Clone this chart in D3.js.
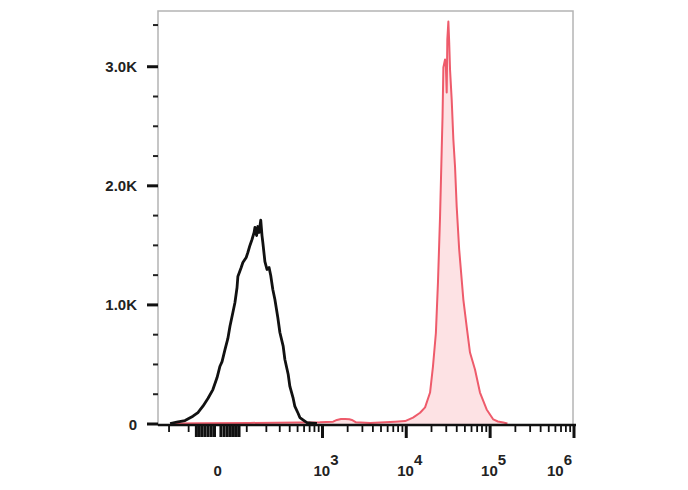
<!DOCTYPE html>
<html>
<head>
<meta charset="utf-8">
<script src="https://cdn.jsdelivr.net/npm/d3@7/dist/d3.min.js"></script>
<style>
  html, body { margin: 0; padding: 0; background: #fff; }
  svg { display: block; }
  text { font-family: "Liberation Sans", Arial, sans-serif; }
</style>
</head>
<body>
<svg id="chart" width="688" height="490"></svg>
<script>
// ---- Data (display channel 0..1000 across the axis, event counts) ----
const blackChannel = [29,45,65,84,96,108,120,132,142,149,154,161,168,173,180,185,190,192,200,204,212,216,221,226,231,233,237,240,243,247,250,252,257,262,267,271,276,281,288,293,301,305,313,317,325,329,337,341,351,358,370,382];
const blackCount   = [0,11,25,61,92,145,210,285,386,481,520,621,714,817,932,1016,1142,1234,1310,1352,1394,1436,1495,1545,1604,1646,1578,1654,1604,1707,1578,1520,1360,1293,1310,1243,1125,1041,890,764,647,537,411,311,210,143,84,50,25,8,4,0];

const redChannel = [41,101,221,341,389,421,430,440,450,460,466,476,510,546,570,594,613,630,642,654,661,668,673,678,682,684,686,690,692,694,695.5,698,700,702,706,710,714,718,724,734,742,750,762,774,790,806,817,830,840];
const redCount   = [0,3,5,8,10,15,30,38,38,36,30,10,5,10,15,20,50,90,135,260,480,760,1185,1737,2300,2578,2990,3056,2998,2779,3224,3375,3199,2972,2720,2385,2158,1822,1461,1041,814,596,453,260,118,34,17,8,0];

// Axis ticks
const yMajorTicks = [0, 1000, 2000, 3000];
const yMajorLabels = ["0", "1.0K", "2.0K", "3.0K"];
const yMinorTicks = [250, 500, 750, 1250, 1500, 1750, 2250, 2500, 2750, 3350];

const xMajorTicks = [1e3, 1e4, 1e5, 1e6];
const xMajorExp = ["3", "4", "5", "6"];
const xMinorTicks = [-200, -100, -70, -60, -50, -40, -30, -20, -10, 10, 20, 30, 40, 50, 60, 70,
  100, 200, 300, 400, 500, 600, 700, 800, 900,
  2000, 3000, 4000, 5000, 6000, 7000, 8000, 9000,
  20000, 30000, 40000, 50000, 60000, 70000, 80000, 90000,
  200000, 300000, 400000, 500000, 600000, 700000, 800000, 900000];
const xDomainMin = -280, xDomainMax = 1e6, cofactor = 113;

// ---- Layout ----
const plotLeft = 158, plotRight = 574, plotTop = 11, plotBottom = 424;
const svg = d3.select("#chart");

// display channel -> pixel
const x = d3.scaleLinear().domain([0, 1000]).range([plotLeft, plotRight]);
// intensity (arcsinh transformed) -> display channel
const asinhT = v => Math.asinh(v / cofactor);
const chan = d3.scaleLinear().domain([asinhT(xDomainMin), asinhT(xDomainMax)]).range([0, 1000]);
const xv = v => x(chan(asinhT(v)));

const y = d3.scaleLinear().domain([0, 3468]).range([plotBottom, plotTop]);

// Frame (gray)
svg.append("rect")
  .attr("x", plotLeft).attr("y", plotTop)
  .attr("width", 573 - plotLeft).attr("height", plotBottom + 1 - plotTop)
  .attr("fill", "none").attr("stroke", "#b4b4b4").attr("stroke-width", 1.5);

// Red histogram (filled)
const redData = redChannel.map((c, i) => [c, redCount[i]]);
svg.append("path")
  .datum(redData)
  .attr("fill", "#fde2e4")
  .attr("d", d3.area().x(d => x(d[0])).y0(y(0)).y1(d => y(d[1])));
svg.append("path")
  .datum(redData)
  .attr("fill", "none")
  .attr("stroke", "#ee5b6b")
  .attr("stroke-width", 2)
  .attr("stroke-linejoin", "round")
  .attr("d", d3.line().x(d => x(d[0])).y(d => y(d[1]) - 0.5));

// Black histogram
const blackData = blackChannel.map((c, i) => [c, blackCount[i]]);
svg.append("path")
  .datum(blackData)
  .attr("fill", "none")
  .attr("stroke", "#111")
  .attr("stroke-width", 2.8)
  .attr("stroke-linejoin", "round")
  .attr("d", d3.line().x(d => x(d[0])).y(d => y(d[1]) - 0.5));

// Y axis ticks
svg.selectAll(".ymaj").data(yMajorTicks).enter().append("line")
  .attr("x1", 147).attr("x2", plotLeft)
  .attr("y1", d => y(d)).attr("y2", d => y(d))
  .attr("stroke", "#111").attr("stroke-width", 3);
svg.selectAll(".ymin").data(yMinorTicks).enter().append("line")
  .attr("x1", 153).attr("x2", plotLeft)
  .attr("y1", d => y(d)).attr("y2", d => y(d))
  .attr("stroke", "#222").attr("stroke-width", 2);
svg.selectAll(".ylab").data(yMajorTicks).enter().append("text")
  .attr("x", 137).attr("y", d => y(d) + 5.5)
  .attr("text-anchor", "end")
  .attr("font-size", 15).attr("font-weight", "bold").attr("fill", "#222")
  .text((d, i) => yMajorLabels[i]);

// X axis line
svg.append("line")
  .attr("x1", plotLeft).attr("x2", 576)
  .attr("y1", 425).attr("y2", 425)
  .attr("stroke", "#111").attr("stroke-width", 2.6);

// X ticks
svg.selectAll(".xmin").data(xMinorTicks).enter().append("line")
  .attr("x1", d => xv(d)).attr("x2", d => xv(d))
  .attr("y1", 425).attr("y2", d => (Math.abs(d) < 100 ? 437 : 432))
  .attr("stroke", "#111").attr("stroke-width", d => (Math.abs(d) < 100 ? 3 : 1.8));
svg.selectAll(".xmaj").data(xMajorTicks).enter().append("line")
  .attr("x1", d => xv(d)).attr("x2", d => xv(d))
  .attr("y1", 425).attr("y2", 438)
  .attr("stroke", "#111").attr("stroke-width", 3);

// X labels
svg.append("text")
  .attr("x", xv(0)).attr("y", 476)
  .attr("text-anchor", "middle")
  .attr("font-size", 15).attr("font-weight", "bold").attr("fill", "#222")
  .text("0");

xMajorTicks.forEach((v, i) => {
  const last = i === xMajorTicks.length - 1;
  const t = svg.append("text")
    .attr("x", last ? xv(v) - 2 : xv(v) - 9)
    .attr("y", 476)
    .attr("text-anchor", last ? "end" : "start")
    .attr("font-size", 15).attr("font-weight", "bold").attr("fill", "#222");
  t.append("tspan").text("10");
  t.append("tspan").attr("dy", -11).text(xMajorExp[i]);
});
</script>
</body>
</html>
